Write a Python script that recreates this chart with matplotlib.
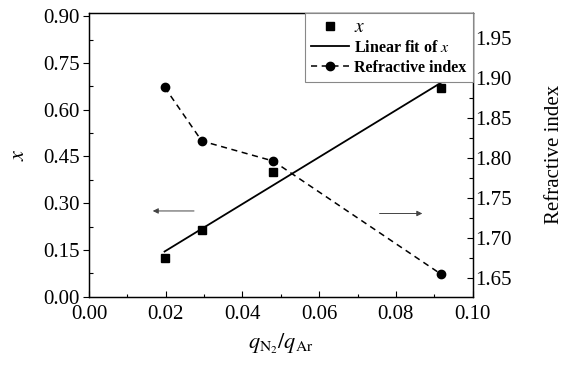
import numpy as np
import matplotlib
matplotlib.use("Agg")
import matplotlib.pyplot as plt
from matplotlib.ticker import MultipleLocator, FormatStrFormatter
from matplotlib.lines import Line2D

plt.rcParams['font.family'] = ['Liberation Serif', 'DejaVu Serif']
plt.rcParams['mathtext.fontset'] = 'stix'

# data
ratio = [0.0197, 0.0294, 0.0480, 0.0918]
x_comp = [0.123, 0.214, 0.399, 0.671]
ref_index = [1.889, 1.8216, 1.7966, 1.655]

fig = plt.figure(figsize=(5.77, 3.67), dpi=100)
ax = fig.add_axes([0.1542, 0.1916, 0.8192 - 0.1542, 0.9654 - 0.1916])
ax2 = ax.twinx()

# linear fit
coef = np.polyfit(ratio, x_comp, 1)
fx = np.array([ratio[0], ratio[-1]])
fy = np.polyval(coef, fx)

ax.plot(ratio, x_comp, 's', color='black', ms=5.5, zorder=3)
ax.plot(fx, fy, '-', color='black', lw=1.3, zorder=2)
ax2.plot(ratio, ref_index, '--', color='black', lw=1.1, marker='o', ms=6, dashes=(4, 3))

ax.set_xlim(0.0, 0.10)
ax.set_ylim(0.0, 0.911)
ax2.set_ylim(1.627, 1.982)

ax.xaxis.set_major_locator(MultipleLocator(0.02))
ax.xaxis.set_minor_locator(MultipleLocator(0.01))
ax.yaxis.set_major_locator(MultipleLocator(0.15))
ax.yaxis.set_minor_locator(MultipleLocator(0.075))
ax2.yaxis.set_major_locator(MultipleLocator(0.05))
ax2.yaxis.set_minor_locator(MultipleLocator(0.025))
ax.xaxis.set_major_formatter(FormatStrFormatter('%.2f'))
ax.yaxis.set_major_formatter(FormatStrFormatter('%.2f'))
ax2.yaxis.set_major_formatter(FormatStrFormatter('%.2f'))

fs = 15
ax.tick_params(axis='x', which='major', direction='in', length=4.5, width=0.8, labelsize=fs, pad=6, top=False)
ax.tick_params(axis='x', which='minor', direction='in', length=2.5, width=0.8, top=False)
ax.tick_params(axis='y', which='major', direction='out', length=4.5, width=0.8, labelsize=fs, pad=2)
ax.tick_params(axis='y', which='minor', direction='in', length=3, width=0.8)
ax2.tick_params(axis='y', which='major', direction='in', length=4.5, width=0.8, labelsize=fs, pad=2)
ax2.tick_params(axis='y', which='minor', direction='in', length=3, width=0.8)

for a in (ax, ax2):
    for s in a.spines.values():
        s.set_linewidth(0.9)

ax.set_xlabel(r'$q_{\mathrm{N_2}}/q_{\mathrm{Ar}}$', fontsize=16, labelpad=6)
ax.set_ylabel(r'$x$', fontsize=16, labelpad=10)
ax2.set_ylabel('Refractive index', fontsize=15, labelpad=24)

# arrows
ax.annotate('', xy=(0.0159, 0.275), xytext=(0.0281, 0.275),
            arrowprops=dict(arrowstyle='-|>', color='#444444', lw=0.7, mutation_scale=8))
ax2.annotate('', xy=(0.0876, 1.731), xytext=(0.0750, 1.731),
             arrowprops=dict(arrowstyle='-|>', color='#444444', lw=0.7, mutation_scale=8))

handles = [
    Line2D([], [], ls='none', marker='s', color='black', ms=5.5),
    Line2D([], [], ls='-', color='black', lw=1.3),
    Line2D([], [], ls='--', color='black', lw=1.1, marker='o', ms=6, dashes=(4, 3)),
]
labels = [r'$x$', r'Linear fit of $x$', 'Refractive index']
leg = ax2.legend(handles, labels, loc='upper right', borderaxespad=0.0,
                 prop={'family': 'Liberation Serif', 'weight': 'bold', 'size': 11.5},
                 fancybox=False, edgecolor='#888888', framealpha=1,
                 handlelength=2.4, handletextpad=0.3, labelspacing=0.25,
                 borderpad=0.4)
leg.get_frame().set_linewidth(0.8)
for t in leg.get_texts()[:1]:
    t.set_fontsize(14)

fig.savefig('out.png', dpi=100)
